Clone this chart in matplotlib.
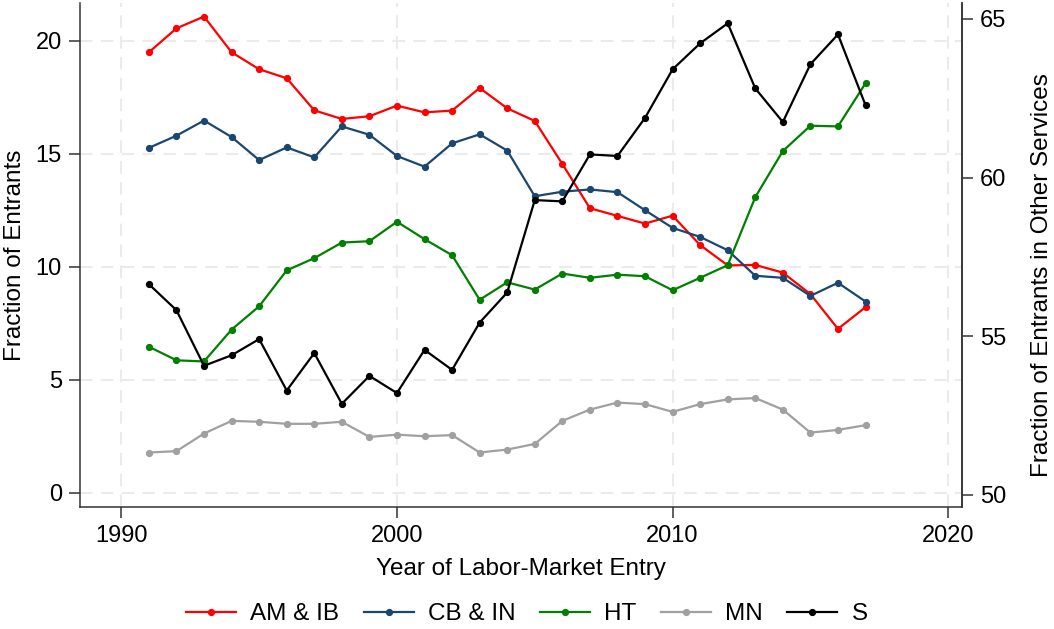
import numpy as np
import matplotlib
matplotlib.use('Agg')
import matplotlib.pyplot as plt

# ---------- data ---------- #

years = list(range(1991, 2018))

am_ib = [19.50, 20.56, 21.08, 19.50, 18.75, 18.35, 16.93, 16.55, 16.67, 17.14,
         16.84, 16.92, 17.92, 17.02, 16.46, 14.56, 12.60, 12.26, 11.92, 12.27,
         10.97, 10.07, 10.09, 9.75, 8.80, 7.26, 8.22]
cb_in = [15.27, 15.81, 16.48, 15.75, 14.73, 15.29, 14.85, 16.22, 15.85, 14.91,
         14.44, 15.47, 15.87, 15.15, 13.13, 13.33, 13.43, 13.31, 12.51, 11.73,
         11.33, 10.74, 9.61, 9.52, 8.72, 9.30, 8.47]
ht = [6.47, 5.87, 5.82, 7.23, 8.26, 9.85, 10.39, 11.08, 11.14, 12.00,
      11.23, 10.52, 8.55, 9.32, 9.00, 9.71, 9.52, 9.66, 9.59, 8.97,
      9.52, 10.08, 13.09, 15.13, 16.25, 16.22, 18.13]
mn = [1.79, 1.85, 2.63, 3.19, 3.15, 3.06, 3.06, 3.15, 2.48, 2.58,
      2.51, 2.56, 1.79, 1.92, 2.17, 3.19, 3.69, 4.00, 3.93, 3.59,
      3.93, 4.14, 4.20, 3.69, 2.67, 2.79, 3.00]
# other services, right axis
s_other = [56.64, 55.82, 54.07, 54.40, 54.91, 53.29, 54.47, 52.87, 53.75, 53.21,
           54.57, 53.94, 55.43, 56.38, 59.29, 59.25, 60.73, 60.68, 61.88, 63.41,
           64.23, 64.86, 62.81, 61.75, 63.57, 64.51, 62.28]

left_series = [('AM & IB', am_ib, '#ff0000'),
               ('CB & IN', cb_in, '#1a476f'),
               ('HT', ht, '#008000'),
               ('MN', mn, '#a0a0a0')]

xticks = [1990, 2000, 2010, 2020]
lticks = [0, 5, 10, 15, 20]
rticks = [50, 55, 60, 65]

# ---------------- plot -------------------- #

plt.rcParams['font.family'] = ['Liberation Sans', 'DejaVu Sans']
fs = 17.5

fig = plt.figure(figsize=(10.54, 6.29), dpi=100)
ax = fig.add_axes([0.0759, 0.194, 0.9127 - 0.0759, 0.9952 - 0.194])
ax2 = ax.twinx()

lw = 1.6
ms = 4.2
handles = []
for name, vals, col in left_series:
    h, = ax.plot(years, vals, color=col, lw=lw, marker='o', ms=ms, label=name)
    handles.append(h)
h, = ax2.plot(years, s_other, color='black', lw=lw, marker='o', ms=ms, label='S')
handles.append(h)

ax.set_xlim(1988.5, 2020.5)
ax.set_ylim(-0.62, 21.68)
ax2.set_ylim(49.62, 65.5)

ax.set_xticks(xticks)
ax.set_yticks(lticks)
ax2.set_yticks(rticks)

gridkw = dict(color='#ebebeb', lw=1.5, dashes=(6, 4), zorder=0)
for v in xticks:
    ax.axvline(v, **gridkw)
for v in lticks:
    ax.axhline(v, **gridkw)

for a in (ax, ax2):
    a.spines['top'].set_visible(False)
    for sp in a.spines.values():
        sp.set_linewidth(1.1)
        sp.set_color('#333333')
    a.tick_params(direction='out', length=8, width=1.1, labelsize=17,
                  color='#333333', pad=5)
ax2.spines['left'].set_visible(False)
ax2.spines['bottom'].set_visible(False)

ax.set_xlabel('Year of Labor-Market Entry', fontsize=fs, labelpad=8)
ax.set_ylabel('Fraction of Entrants', fontsize=fs, labelpad=7)
ax2.set_ylabel('Fraction of Entrants in Other Services', fontsize=fs)
ax2.yaxis.set_label_coords(1.078, 0.46)

fig.legend(handles=handles, labels=[h.get_label() for h in handles],
           loc='center', bbox_to_anchor=(0.5, 1 - 614 / 629), ncol=5,
           frameon=False, fontsize=fs, handlelength=2.05, handletextpad=0.6,
           columnspacing=1.0)

plt.savefig('out.png', dpi=100)
